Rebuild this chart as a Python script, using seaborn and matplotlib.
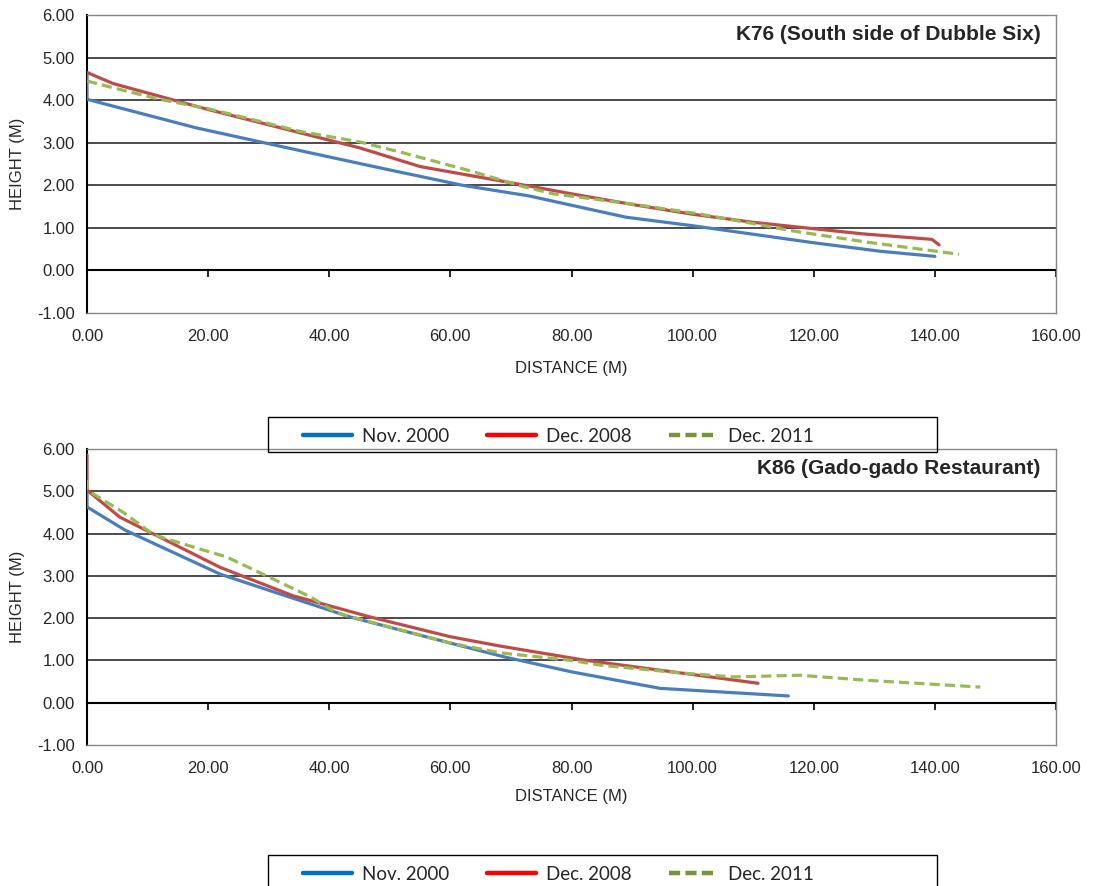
#!/usr/bin/env python3
"""
Beach profiles K76 / K86: height vs distance for three surveys
"""

import numpy as np
import matplotlib
matplotlib.use("Agg")
import matplotlib.pyplot as plt
from matplotlib.lines import Line2D
from matplotlib.patches import Rectangle
import seaborn as sns

sns.set_style("white")
plt.rcParams['font.family'] = ['Liberation Sans', 'DejaVu Sans']

# Profile K76 (South side of Dubble Six)
k76_nov2000_x = [0, 0, 18, 35, 48, 62, 73, 89, 100, 110, 120, 131, 140]
k76_nov2000_y = [4.62, 4.02, 3.35, 2.82, 2.42, 2.0, 1.75, 1.25, 1.05, 0.85, 0.65, 0.45, 0.33]
k76_dec2008_x = [0, 4.3, 20, 35, 45, 55, 70, 80, 90, 100, 110, 120, 128, 139.5, 140.7]
k76_dec2008_y = [4.65, 4.39, 3.78, 3.24, 2.88, 2.44, 2.06, 1.8, 1.55, 1.32, 1.13, 0.98, 0.86, 0.73, 0.6]
k76_dec2011_x = [0, 4.3, 12, 20, 30, 35, 45, 52, 63, 72, 77, 90, 101, 110, 116, 129, 144]
k76_dec2011_y = [4.45, 4.29, 4.02, 3.8, 3.45, 3.27, 3.02, 2.77, 2.35, 1.97, 1.8, 1.56, 1.33, 1.1, 0.94, 0.66, 0.38]

# Profile K86 (Gado-gado Restaurant)
k86_nov2000_x = [0, 0, 6.3, 22, 30, 43.4, 60, 69, 80, 94.6, 115.8]
k86_nov2000_y = [5.03, 4.63, 4.08, 3.04, 2.66, 2.03, 1.41, 1.08, 0.73, 0.34, 0.16]
k86_dec2008_x = [0, 0, 5.4, 22, 34, 46.7, 60, 68.2, 82, 110.8]
k86_dec2008_y = [5.86, 5.03, 4.39, 3.2, 2.53, 2.03, 1.56, 1.34, 1.01, 0.46]
k86_dec2011_x = [0, 0, 6, 11, 19.2, 23, 28.6, 36.8, 41.3, 60, 68.2, 80, 84.7, 98.4, 106.7, 117.7, 128.8, 147.5]
k86_dec2011_y = [5.26, 5.03, 4.5, 3.97, 3.61, 3.45, 3.07, 2.51, 2.12, 1.41, 1.18, 1.0, 0.89, 0.70, 0.61, 0.65, 0.53, 0.37]

series_names = ['Nov. 2000', 'Dec. 2008', 'Dec. 2011']
line_colors = ['#4A7EBB', '#BE4B48', '#98B954']
legend_colors = ['#0070C0', '#FF0000', '#77933C']
x_ticks = [0, 20, 40, 60, 80, 100, 120, 140, 160]
y_ticks = [-1, 0, 1, 2, 3, 4, 5, 6]

panels = [
    ('K76 (South side of Dubble Six)',
     [(k76_nov2000_x, k76_nov2000_y), (k76_dec2008_x, k76_dec2008_y), (k76_dec2011_x, k76_dec2011_y)]),
    ('K86 (Gado-gado Restaurant)',
     [(k86_nov2000_x, k86_nov2000_y), (k86_dec2008_x, k86_dec2008_y), (k86_dec2011_x, k86_dec2011_y)]),
]

W, H = 1093, 886
fig = plt.figure(figsize=(W / 100, H / 100), dpi=100)
ax_rects = [[87 / W, 1 - 313 / H, 969 / W, 298 / H], [87 / W, 1 - 745 / H, 969 / W, 296 / H]]
legend_box_top = [417, 855]
xlabel_y = [-0.161, -0.149]

for i, (title, data) in enumerate(panels):
    ax = fig.add_axes(ax_rects[i])

    for yv in y_ticks[2:-1]:
        ax.axhline(yv, color='#1a1a1a', lw=1.1, zorder=1)

    for (xs, ys), c, name in zip(data, line_colors, series_names):
        ls = (0, (3.2, 1.6)) if name == 'Dec. 2011' else '-'
        sns.lineplot(x=xs, y=ys, ax=ax, estimator=None, sort=False,
                     color=c, lw=2.3, linestyle=ls, zorder=3)

    ax.set_xlim(0, 160)
    ax.set_ylim(-1, 6)
    ax.set_xticks(x_ticks)
    ax.set_xticklabels([f'{v:.2f}' for v in x_ticks])
    ax.set_yticks(y_ticks)
    ax.set_yticklabels([f'{v:.2f}' for v in y_ticks])
    ax.tick_params(axis='x', length=0, pad=11.5, labelsize=12)
    ax.tick_params(axis='y', length=4, width=1.2, direction='out', pad=5, labelsize=12, color='k')

    for s in ['top', 'right', 'bottom']:
        ax.spines[s].set_color('#868686')
        ax.spines[s].set_linewidth(1.0)
    ax.spines['left'].set_color('k')
    ax.spines['left'].set_linewidth(1.5)

    # horizontal axis crossing at height 0
    secax = ax.secondary_xaxis(1 / 7)
    secax.set_xticks(x_ticks)
    secax.xaxis.set_ticks_position('bottom')
    secax.tick_params(axis='x', direction='out', length=5, width=1.2, color='k',
                      labelbottom=False, labeltop=False)
    for s in secax.spines.values():
        s.set_visible(False)
    secax.spines['bottom'].set_visible(True)
    secax.spines['bottom'].set_color('k')
    secax.spines['bottom'].set_linewidth(1.5)

    ax.set_xlabel('DISTANCE (M)', fontsize=12)
    ax.set_ylabel('HEIGHT (M)', fontsize=12)
    ax.xaxis.set_label_coords(0.5, xlabel_y[i])
    ax.yaxis.set_label_coords(-0.064, 0.5)

    ax.text(0.984, 0.933, title, transform=ax.transAxes, ha='right', va='center',
            fontsize=15, fontweight='bold')

    # legend box
    top = legend_box_top[i]
    fig.patches.append(Rectangle((268 / W, 1 - (top + 35) / H), 669 / W, 35 / H,
                                 transform=fig.transFigure, fill=False,
                                 edgecolor='k', lw=1.0))
    handles = [
        Line2D([], [], color=legend_colors[0], lw=3.2),
        Line2D([], [], color=legend_colors[1], lw=3.2),
        Line2D([], [], color=legend_colors[2], lw=3.2, linestyle=(0, (2.5, 1.2))),
    ]
    fig.legend(handles, series_names, loc='center left',
               bbox_to_anchor=(303 / W, 1 - (top + 19) / H),
               ncol=3, frameon=False, handlelength=2.6, handletextpad=0.55,
               columnspacing=2.0, borderpad=0, borderaxespad=0,
               prop={'family': ['Lato', 'DejaVu Sans'], 'size': 13.5})

fig.savefig('out.png', dpi=100)
